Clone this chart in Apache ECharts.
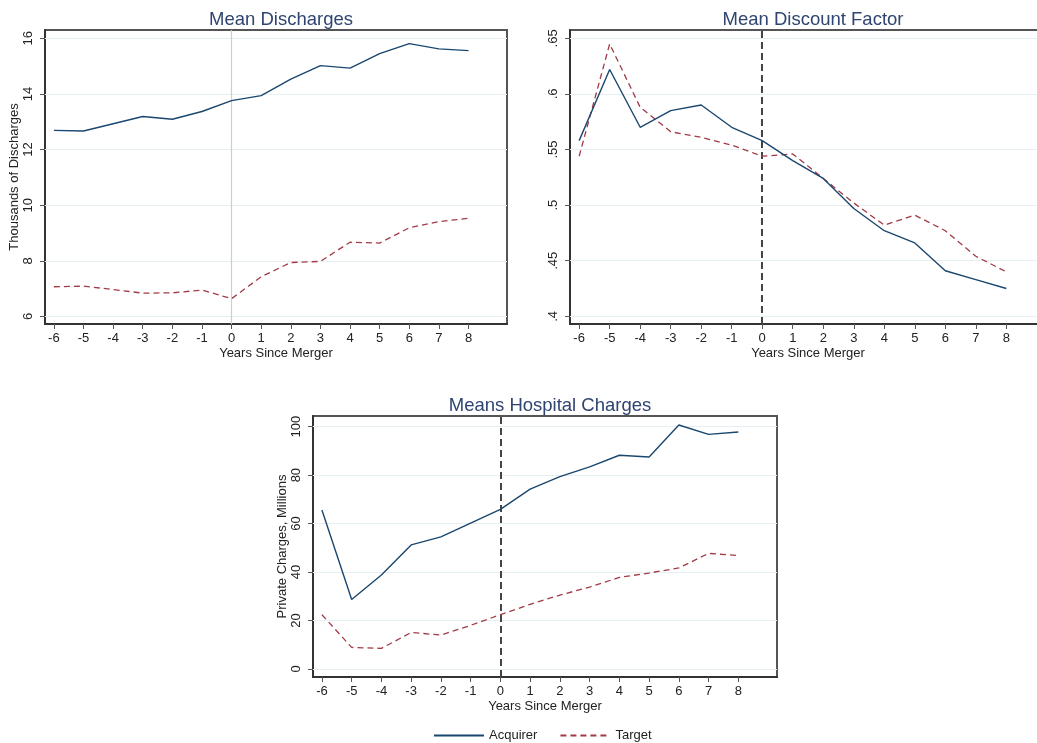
<!DOCTYPE html>
<html>
<head>
<meta charset="utf-8">
<title>Merger outcomes by years since merger</title>
<script src="https://cdn.jsdelivr.net/npm/echarts@6/dist/echarts.min.js"></script>
<style>
  html, body { margin: 0; padding: 0; background: #ffffff; overflow: hidden; }
  /* The canvas is a little wider than the page so the right-hand panel runs off the edge */
  #chart { width: 1060px; height: 743px; }
</style>
</head>
<body>
<div id="chart"></div>
<script>
// Years relative to the merger
const years = [-6, -5, -4, -3, -2, -1, 0, 1, 2, 3, 4, 5, 6, 7, 8];

// Mean discharges (thousands)
const dischargesAcquirer = [12.69, 12.67, 12.93, 13.19, 13.09, 13.37, 13.76, 13.94, 14.53, 15.02, 14.93, 15.45, 15.81, 15.62, 15.56];
const dischargesTarget   = [7.07, 7.09, 6.97, 6.84, 6.85, 6.95, 6.64, 7.43, 7.94, 7.98, 8.67, 8.64, 9.19, 9.41, 9.53];

// Mean discount factor
const discountAcquirer = [0.558, 0.622, 0.570, 0.585, 0.590, 0.570, 0.558, 0.540, 0.524, 0.497, 0.477, 0.466, 0.441, 0.433, 0.425];
const discountTarget   = [0.544, 0.645, 0.588, 0.566, 0.561, 0.554, 0.544, 0.546, 0.524, 0.502, 0.482, 0.491, 0.477, 0.454, 0.440];

// Mean private charges (millions)
const chargesAcquirer = [65.6, 28.7, 38.8, 51.2, 54.5, 60.2, 65.9, 74.2, 79.4, 83.4, 88.2, 87.5, 100.7, 96.8, 97.8];
const chargesTarget   = [22.4, 8.9, 8.5, 15.1, 14.0, 18.0, 22.4, 26.7, 30.5, 33.8, 37.8, 39.6, 41.7, 47.7, 46.8];

// Tick values
const yearTicks = [-6, -5, -4, -3, -2, -1, 0, 1, 2, 3, 4, 5, 6, 7, 8];
const dischargesTicks = [6, 8, 10, 12, 14, 16];
const discountTicks = [0.4, 0.45, 0.5, 0.55, 0.6, 0.65];
const chargesTicks = [0, 20, 40, 60, 80, 100];

const titles = ['Mean Discharges', 'Mean Discount Factor', 'Means Hospital Charges'];
const seriesNames = ['Acquirer', 'Target'];

const FONT = '"Liberation Sans", Arial, Helvetica, sans-serif';
const NAVY = '#1a476f';
const MAROON = '#a13b45';
const TITLE = '#2f4470';
const GRIDLINE = '#e6eff1';

const grids = [
  { left: 45, top: 30, width: 462, height: 294 },
  { left: 570, top: 30, width: 476, height: 294 },
  { left: 313, top: 416, width: 464, height: 261 }
];

function pairs(vals) { return years.map((y, i) => [y, vals[i]]); }

function xAxisFor(gi) {
  return {
    type: 'value', gridIndex: gi, min: -6.3, max: 9.3,
    name: 'Years Since Merger', nameLocation: 'middle', nameGap: 23,
    nameTextStyle: { fontFamily: FONT, fontSize: 13, color: '#222' },
    axisLine: { show: true, onZero: false, lineStyle: { color: '#333', width: 2 } },
    axisTick: { show: true, inside: false, length: 5, customValues: yearTicks, lineStyle: { color: '#555', width: 1 } },
    axisLabel: { customValues: yearTicks, margin: 8, fontFamily: FONT, fontSize: 13, color: '#222' },
    splitLine: { show: false }
  };
}

function yAxisFor(gi, min, max, ticks, name, fmt) {
  return {
    type: 'value', gridIndex: gi, min: min, max: max,
    name: name, nameLocation: 'middle', nameGap: 22, nameRotate: 90,
    nameTextStyle: { fontFamily: FONT, fontSize: 13, color: '#222' },
    axisLine: { show: true, onZero: false, lineStyle: { color: '#333', width: 2 } },
    axisTick: { show: true, inside: false, length: 5, customValues: ticks, lineStyle: { color: '#555', width: 1 } },
    axisLabel: { customValues: ticks, rotate: 90, margin: 10, fontFamily: FONT, fontSize: 13, color: '#222',
                 formatter: fmt || (v => String(v)) },
    splitLine: { show: false }
  };
}

function gridLines(ticks) {
  return {
    silent: true, symbol: 'none', z: 1, label: { show: false },
    lineStyle: { color: GRIDLINE, width: 1, type: 'solid' },
    data: ticks.map(t => ({ yAxis: t }))
  };
}

function zeroLine(style) {
  return { silent: true, symbol: 'none', z: 2, label: { show: false }, lineStyle: style, data: [{ xAxis: 0 }] };
}

const dashedZero = { color: '#444', width: 2, type: [7, 4] };
const lightZero = { color: '#cfcfcf', width: 1.2, type: 'solid' };

function panelSeries(gi, acq, tgt, ticks, zeroStyle) {
  return [
    { type: 'line', name: '_grid' + gi, xAxisIndex: gi, yAxisIndex: gi, data: [], z: 1,
      markLine: gridLines(ticks) },
    { type: 'line', name: '_zero' + gi, xAxisIndex: gi, yAxisIndex: gi, data: [], z: 2,
      markLine: zeroLine(zeroStyle) },
    { type: 'line', name: seriesNames[0], xAxisIndex: gi, yAxisIndex: gi, data: pairs(acq),
      symbol: 'none', z: 10, lineStyle: { color: NAVY, width: 1.4 }, itemStyle: { color: NAVY } },
    { type: 'line', name: seriesNames[1], xAxisIndex: gi, yAxisIndex: gi, data: pairs(tgt),
      symbol: 'none', z: 9, lineStyle: { color: MAROON, width: 1.3, type: [6, 4] }, itemStyle: { color: MAROON } }
  ];
}

const chart = echarts.init(document.getElementById('chart'), null, { renderer: 'canvas' });

chart.setOption({
  backgroundColor: '#ffffff',
  animation: false,
  title: grids.map((g, i) => ({
    text: titles[i],
    left: g.left + g.width / 2, textAlign: 'center',
    top: g.top - 25,
    textStyle: { fontFamily: FONT, fontSize: 18.5, fontWeight: 'normal', color: TITLE }
  })),
  legend: {
    data: seriesNames,
    top: 724, left: 428,
    itemWidth: 50, itemHeight: 14, itemGap: 22,
    itemStyle: { opacity: 0 },
    textStyle: { fontFamily: FONT, fontSize: 13, color: '#222' }
  },
  grid: grids.map(g => ({ show: true, borderColor: '#555', borderWidth: 2, backgroundColor: '#fff',
                          left: g.left, top: g.top, width: g.width, height: g.height })),
  xAxis: [xAxisFor(0), xAxisFor(1), xAxisFor(2)],
  yAxis: [
    yAxisFor(0, 5.73, 16.3, dischargesTicks, 'Thousands of Discharges'),
    yAxisFor(1, 0.3931, 0.6575, discountTicks, '', v => String(Math.round(v * 100) / 100).replace(/^0/, '')),
    yAxisFor(2, -3.3, 104.4, chargesTicks, 'Private Charges, Millions')
  ],
  series: [].concat(
    panelSeries(0, dischargesAcquirer, dischargesTarget, dischargesTicks, lightZero),
    panelSeries(1, discountAcquirer, discountTarget, discountTicks, dashedZero),
    panelSeries(2, chargesAcquirer, chargesTarget, chargesTicks, dashedZero)
  )
});
</script>
</body>
</html>
